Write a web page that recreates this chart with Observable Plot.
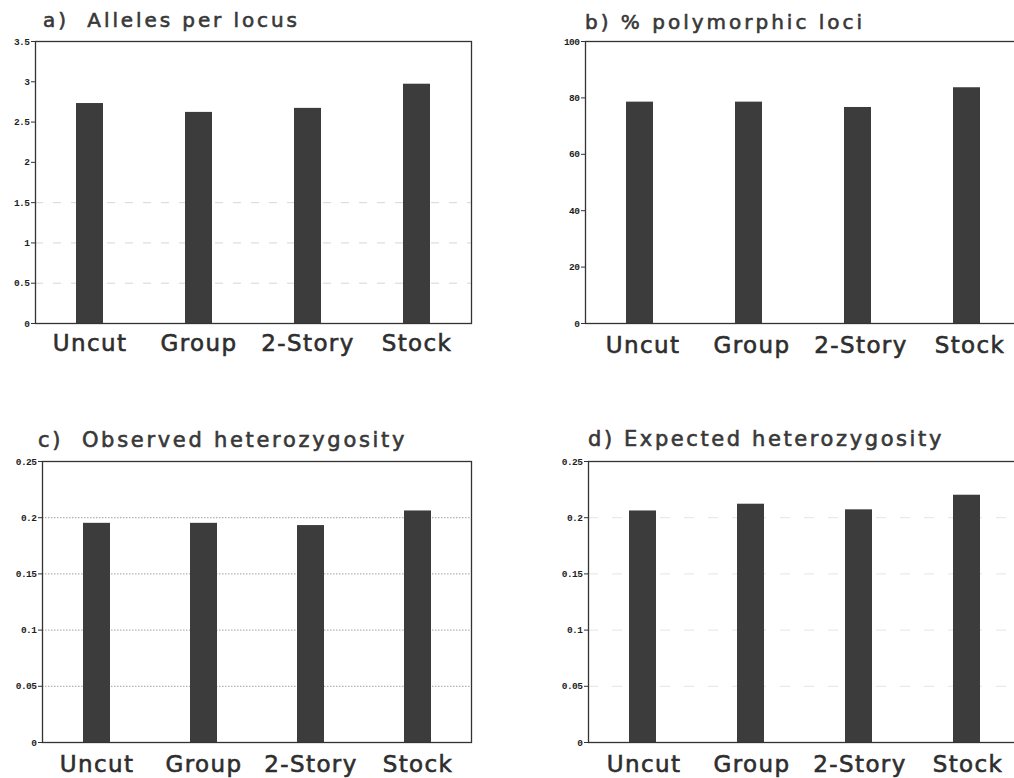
<!DOCTYPE html>
<html><head><meta charset="utf-8">
<script src="https://cdn.jsdelivr.net/npm/d3@7"></script>
<script src="https://cdn.jsdelivr.net/npm/@observablehq/plot@0.6"></script>
<style>
html,body{margin:0;padding:0;width:1014px;height:778px;overflow:hidden;background:#fff;position:relative}
.panel{position:absolute}
.panel svg{max-width:none !important}
.title{position:absolute;font-family:"DejaVu Sans",sans-serif;color:#383838;white-space:pre;line-height:1;-webkit-text-stroke:0.6px #383838}
svg g[aria-label="y-axis tick label"]{font-family:"Liberation Mono",monospace;font-weight:bold;font-size:9.5px;letter-spacing:-0.5px;fill:#1e1e1e}
svg g[aria-label="x-axis tick label"]{font-family:"DejaVu Sans",sans-serif;font-size:23px;letter-spacing:1.4px;fill:#2e2e2e;stroke:#2e2e2e;stroke-width:0.6px}
</style></head><body>
<div class="title" style="left:43px;top:10px;font-size:20px;letter-spacing:2.9px">a)  Alleles per locus</div>
<div class="title" style="left:585px;top:12px;font-size:20px;letter-spacing:3px">b) % polymorphic loci</div>
<div class="title" style="left:38px;top:430px;font-size:21px;letter-spacing:2.7px">c)  Observed heterozygosity</div>
<div class="title" style="left:588px;top:429px;font-size:21px;letter-spacing:2.6px">d) Expected heterozygosity</div>
<div id="pa" class="panel" style="left:0;top:30px;width:490px"></div>
<div id="pb" class="panel" style="left:520px;top:30px;width:520px"></div>
<div id="pc" class="panel" style="left:0;top:450px;width:490px"></div>
<div id="pd" class="panel" style="left:520px;top:450px;width:520px"></div>
<script>
const sites = ["Uncut", "Group", "2-Story", "Stock"];
const allelesPerLocus = [2.73, 2.62, 2.67, 2.97];
const polymorphicLoci = [78.5, 78.5, 76.6, 83.6];
const observedHet = [0.195, 0.195, 0.193, 0.206];
const expectedHet = [0.206, 0.212, 0.207, 0.220];
const allelesTicks = [0, 0.5, 1, 1.5, 2, 2.5, 3, 3.5];
const polyTicks = [0, 20, 40, 60, 80, 100];
const hetTicks = [0, 0.05, 0.1, 0.15, 0.2, 0.25];
const allelesGrid = [0.5, 1, 1.5];
const hetGrid = [0.05, 0.1, 0.15, 0.2];

function panel(el, values, ticks, grid, gridStyle, opt) {
  const rows = sites.map((s, i) => ({site: s, value: values[i]}));
  const marks = [];
  if (grid) marks.push(Plot.gridY(grid, gridStyle));
  marks.push(
    Plot.barY(rows, {x: "site", y: "value", fill: "#3c3c3c"}),
    Plot.frame({stroke: "#333", strokeWidth: 1.3}),
    Plot.axisY({ticks: ticks, tickSize: 4, tickPadding: 2, label: null, tickFormat: d => String(d), stroke: "#333"}),
    Plot.axisX({tickSize: 0, tickPadding: opt.labelPad, label: null, dx: opt.dx || 0})
  );
  const chart = Plot.plot({
    width: opt.width, height: opt.height,
    marginLeft: opt.ml, marginRight: opt.mr, marginTop: opt.mt, marginBottom: opt.mb,
    x: {domain: sites, paddingInner: 0.75, paddingOuter: 0.375},
    y: {domain: [0, ticks[ticks.length - 1]]},
    style: {background: "transparent", overflow: "visible", maxWidth: "none"},
    marks
  });
  document.getElementById(el).appendChild(chart);
}

panel("pa", allelesPerLocus, allelesTicks, allelesGrid,
  {stroke: "#bbb", strokeOpacity: 0.6, strokeDasharray: "8,10"},
  {width: 490, height: 340, ml: 35, mr: 19, mt: 11, mb: 47, labelPad: 11});
panel("pb", polymorphicLoci, polyTicks, null, null,
  {width: 520, height: 340, ml: 65, mr: 19, mt: 11, mb: 47, labelPad: 13, dx: 3});
panel("pc", observedHet, hetTicks, hetGrid,
  {stroke: "#888", strokeOpacity: 0.8, strokeDasharray: "1.5,1.5"},
  {width: 490, height: 328, ml: 42, mr: 19, mt: 11, mb: 36, labelPad: 13.5});
panel("pd", expectedHet, hetTicks, hetGrid,
  {stroke: "#ccc", strokeOpacity: 0.5, strokeDasharray: "10,14"},
  {width: 520, height: 328, ml: 68, mr: 20, mt: 11, mb: 36, labelPad: 13.5, dx: 1});
</script>
</body></html>
